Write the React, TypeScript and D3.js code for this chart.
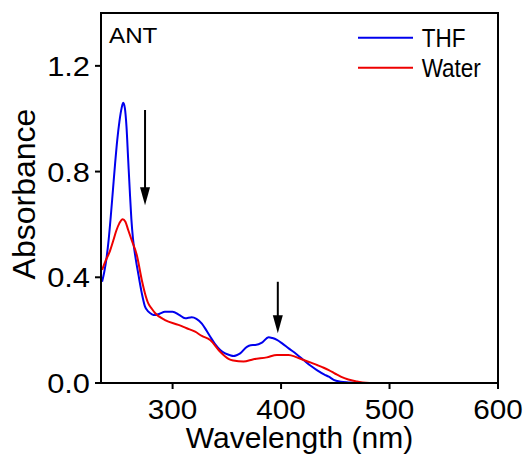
import React from "react";
import * as d3 from "d3";

// THF series: [wavelength (nm), absorbance]
const thfWavelength = [235, 237, 239, 241, 243, 245, 247, 249, 251, 253, 254.5, 256, 257.5, 259, 260.5, 262, 263.5, 266, 268.5, 271.6, 274.5, 277.7, 281, 284, 288, 293, 300, 306, 311.6, 317.7, 322, 327, 331, 334.6, 339, 343.9, 348.5, 353, 356, 359, 362.3, 368.5, 372, 376.2, 382.4, 388.5, 392, 396.2, 401, 407, 414, 420.8, 427, 433, 440, 444, 448.5, 455, 462, 470, 500, 600];
const thfAbsorbance = [0.383, 0.42, 0.47, 0.54, 0.63, 0.73, 0.83, 0.92, 0.99, 1.04, 1.06, 1.04, 0.97, 0.85, 0.73, 0.62, 0.545, 0.47, 0.41, 0.34, 0.29, 0.27, 0.26, 0.257, 0.262, 0.27, 0.27, 0.258, 0.245, 0.249, 0.243, 0.225, 0.2, 0.176, 0.148, 0.125, 0.112, 0.105, 0.102, 0.105, 0.112, 0.137, 0.143, 0.144, 0.153, 0.173, 0.17, 0.163, 0.15, 0.131, 0.11, 0.087, 0.066, 0.049, 0.032, 0.024, 0.012, 0.005, 0.002, 0, 0, 0];

// Water series
const waterWavelength = [235, 238, 242.3, 245.4, 248, 251, 254, 256.5, 259, 262.3, 267, 271.6, 274.5, 277.7, 281, 284, 293, 305.4, 313, 320.8, 327, 334.6, 343.9, 348.5, 352, 356, 365.4, 374.6, 386.9, 396.2, 407, 414, 420.8, 427, 433.2, 438, 444, 450, 455, 462, 470, 478, 485, 600];
const waterAbsorbance = [0.428, 0.46, 0.5, 0.54, 0.575, 0.605, 0.62, 0.61, 0.58, 0.54, 0.484, 0.39, 0.34, 0.3, 0.28, 0.264, 0.238, 0.22, 0.207, 0.194, 0.178, 0.163, 0.118, 0.1, 0.09, 0.085, 0.081, 0.09, 0.097, 0.106, 0.106, 0.098, 0.087, 0.078, 0.068, 0.06, 0.049, 0.035, 0.024, 0.013, 0.006, 0.001, 0, 0];

const xTicks = [300, 400, 500, 600];
const yTicks = [0.0, 0.4, 0.8, 1.2];
const seriesNames = ["THF", "Water"];
const seriesColors = ["#0000ee", "#ee0000"];

// annotation arrows: [wavelength, from absorbance, to absorbance]
const arrowX = [274.6, 397];
const arrowFrom = [1.033, 0.383];
const arrowTo = [0.673, 0.188];

const W = 529;
const H = 458;
const M = { left: 101, top: 13, right: 31, bottom: 75 };

export default function App() {
  const x = d3.scaleLinear().domain([234, 600]).range([M.left, W - M.right]);
  const y = d3.scaleLinear().domain([0, 1.4]).range([H - M.bottom, M.top]);
  const line = d3
    .line<[number, number]>()
    .x((d) => x(d[0]))
    .y((d) => y(d[1]))
    .curve(d3.curveMonotoneX);

  const thf: [number, number][] = thfWavelength.map((w, i) => [w, thfAbsorbance[i]]);
  const water: [number, number][] = waterWavelength.map((w, i) => [w, waterAbsorbance[i]]);
  const series = [thf, water];

  const font = "'Liberation Sans', Arial, sans-serif";
  const x0 = M.left;
  const x1 = W - M.right;
  const y0 = H - M.bottom;
  const y1 = M.top;

  return (
    <svg
      width={W}
      height={H}
      style={{ position: "absolute", left: 0, top: 0, background: "#fff" }}
      fontFamily={font}
    >
      <defs>
        <clipPath id="plot">
          <rect x={x0} y={y1} width={x1 - x0} height={y0 - y1} />
        </clipPath>
      </defs>

      {/* series */}
      <g clipPath="url(#plot)">
        {series.map((s, i) => (
          <path
            key={i}
            d={line(s) || ""}
            fill="none"
            stroke={seriesColors[i]}
            strokeWidth={2}
            strokeLinejoin="round"
          />
        ))}
      </g>

      {/* frame */}
      <rect x={x0} y={y1} width={x1 - x0} height={y0 - y1} fill="none" stroke="#000" strokeWidth={2} />

      {/* x ticks */}
      {xTicks.map((t) => (
        <g key={t}>
          <line x1={x(t)} x2={x(t)} y1={y0} y2={y0 + 6} stroke="#000" strokeWidth={2} />
          <text
            transform={`translate(${x(t)},${y0 + 36}) scale(1.1,1)`}
            textAnchor="middle"
            fontSize={27}
            fill="#000"
          >
            {t}
          </text>
        </g>
      ))}

      {/* y ticks */}
      {yTicks.map((t) => (
        <g key={t}>
          <line x1={x0 - 6} x2={x0} y1={y(t)} y2={y(t)} stroke="#000" strokeWidth={2} />
          <text
            transform={`translate(${x0 - 11},${y(t) + 10}) scale(1.1,1)`}
            textAnchor="end"
            fontSize={28}
            fill="#000"
          >
            {t.toFixed(1)}
          </text>
        </g>
      ))}

      {/* axis titles */}
      <text x={(x0 + x1) / 2} y={448} textAnchor="middle" fontSize={30} fill="#000">
        Wavelength (nm)
      </text>
      <text
        transform={`translate(35,${(y0 + y1) / 2 - 4}) rotate(-90)`}
        textAnchor="middle"
        fontSize={32}
        fill="#000"
      >
        Absorbance
      </text>

      {/* label */}
      <text transform={`translate(109,42.7) scale(1.1,1)`} fontSize={22} fill="#000">
        ANT
      </text>

      {/* legend */}
      {seriesNames.map((n, i) => (
        <g key={n}>
          <line x1={358} x2={413} y1={37.7 + i * 30} y2={37.7 + i * 30} stroke={seriesColors[i]} strokeWidth={2} />
          <text transform={`translate(421.7,${46.9 + i * 30}) scale(0.9,1)`} fontSize={25} fill="#000">
            {n}
          </text>
        </g>
      ))}

      {/* arrows */}
      {arrowX.map((ax, i) => {
        const px = x(ax);
        const pyFrom = y(arrowFrom[i]);
        const pyTo = y(arrowTo[i]);
        const headLen = 18;
        const headHalf = 5;
        return (
          <g key={i}>
            <line x1={px} x2={px} y1={pyFrom} y2={pyTo - headLen + 2} stroke="#000" strokeWidth={2} />
            <path
              d={`M${px - headHalf},${pyTo - headLen} L${px + headHalf},${pyTo - headLen} L${px},${pyTo} Z`}
              fill="#000"
            />
          </g>
        );
      })}
    </svg>
  );
}
